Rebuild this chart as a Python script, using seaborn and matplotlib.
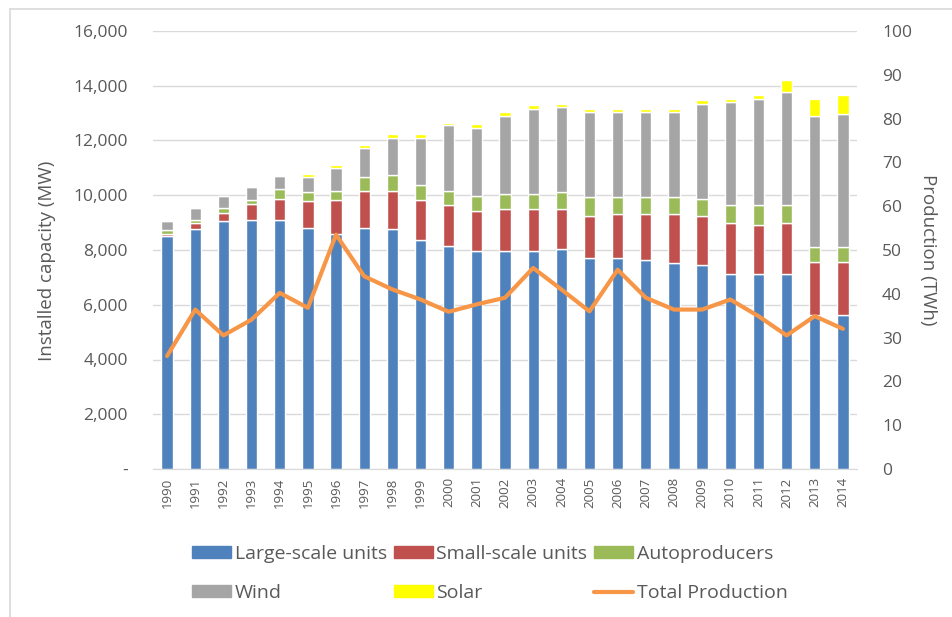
import numpy as np
import pandas as pd
import matplotlib
matplotlib.use('Agg')
import matplotlib.pyplot as plt
import seaborn as sns
from matplotlib.lines import Line2D

# data (MW per component, TWh for production)
years = [str(y) for y in range(1990, 2015)]
large_scale = [8500, 8750, 9050, 9110, 9110, 8810, 8570, 8810, 8750, 8380, 8140, 7960, 7960,
               7960, 8020, 7690, 7690, 7630, 7510, 7450, 7140, 7140, 7140, 5640, 5640]
small_scale = [100, 240, 310, 580, 760, 970, 1240, 1360, 1420, 1430, 1490, 1480, 1520,
               1520, 1460, 1550, 1610, 1670, 1790, 1790, 1850, 1790, 1850, 1930, 1930]
autoproducers = [130, 120, 180, 120, 360, 330, 360, 510, 560, 560, 540, 550, 570,
                 570, 630, 690, 630, 630, 630, 630, 640, 700, 640, 550, 550]
wind = [320, 430, 450, 480, 490, 570, 830, 1050, 1360, 1720, 2380, 2480, 2840,
        3110, 3110, 3100, 3100, 3100, 3100, 3470, 3770, 3890, 4130, 4770, 4850]
solar = [0, 0, 0, 0, 0, 100, 110, 110, 140, 140, 100, 130, 140,
         120, 130, 130, 130, 130, 130, 130, 120, 130, 440, 630, 680]
production = [25.8, 36.4, 30.5, 34.1, 40.2, 36.8, 53.5, 44.0, 41.0, 38.7, 35.9, 37.6, 39.1,
              45.9, 41.0, 36.0, 45.5, 39.1, 36.4, 36.4, 38.7, 34.9, 30.5, 34.9, 32.0]

df = pd.DataFrame({'Year': years, 'Large-scale units': large_scale, 'Small-scale units': small_scale,
                   'Autoproducers': autoproducers, 'Wind': wind, 'Solar': solar,
                   'Total Production': production})

sns.set_style('white')
plt.rcParams['font.family'] = ['Open Sans', 'DejaVu Sans']
txt = '#595959'

fig = plt.figure(figsize=(9.52, 6.17), dpi=100)
ax = fig.add_axes([153/952, 1-469/617, 704/952, 438/617])

series = ['Large-scale units', 'Small-scale units', 'Autoproducers', 'Wind', 'Solar']
colors = ['#4F81BD', '#C0504D', '#9BBB59', '#A5A5A5', '#FFFF00']
bottom = np.zeros(len(df))
for name, col in zip(series, colors):
    sns.barplot(x='Year', y=name, data=df, color=col, width=0.4, bottom=bottom,
                ax=ax, zorder=2, saturation=1, errorbar=None)
    bottom = bottom + df[name].values

ax.set_ylim(0, 16000)
ax.set_xlim(-0.5, len(df)-0.5)
ax.set_yticks(np.arange(0, 16001, 2000))
ax.yaxis.set_major_formatter(plt.FuncFormatter(lambda v, loc: '-' if v == 0 else "{:,}".format(int(v))))
ax.grid(axis='y', color='#D9D9D9', linewidth=1, zorder=0)
ax.set_axisbelow(True)
for s in ['left', 'right', 'top']:
    ax.spines[s].set_visible(False)
ax.spines['bottom'].set_color('#D9D9D9')
ax.tick_params(axis='y', length=0, pad=18, labelsize=12.5, labelcolor=txt)
ax.tick_params(axis='x', length=0, pad=6, labelsize=9.5, labelcolor=txt, rotation=90)
ax.set_xlabel('')
ax.set_ylabel('Installed capacity (MW)', fontsize=13.5, color=txt)
ax.yaxis.set_label_coords(-0.138, 0.475)

ax2 = ax.twinx()
sns.lineplot(x=np.arange(len(df)), y=df['Total Production'].values, color='#F79646',
             linewidth=3, ax=ax2, zorder=3)
ax2.set_ylim(0, 100)
ax2.set_yticks(np.arange(0, 101, 10))
for s in ['left', 'right', 'top', 'bottom']:
    ax2.spines[s].set_visible(False)
ax2.tick_params(axis='y', length=0, pad=18, labelsize=12.5, labelcolor=txt)
ax2.set_ylabel('Production (TWh)', fontsize=13.5, color=txt, rotation=270, labelpad=18)
ax2.grid(False)

# legend, filled column-wise so rows read like the original
patches = [plt.Rectangle((0, 0), 1, 1, color=c) for c in colors]
line = Line2D([0], [0], color='#F79646', linewidth=3)
handles = [patches[0], patches[3], patches[1], patches[4], patches[2], line]
labels = ['Large-scale units', 'Wind', 'Small-scale units', 'Solar', 'Autoproducers', 'Total Production']
leg = fig.legend(handles, labels, ncol=3, loc='upper left', bbox_to_anchor=(192/952, 1-545/617),
                 frameon=False, fontsize=14, handlelength=2.0, handleheight=0.55,
                 handletextpad=0.2, columnspacing=0.35, labelspacing=1.08, borderpad=0,
                 borderaxespad=0)
for t in leg.get_texts():
    t.set_color(txt)

# outer chart border (left and top edges visible)
fig.add_artist(Line2D([9.5/952, 9.5/952], [0, 1-9/617], color='#D9D9D9', linewidth=1.2))
fig.add_artist(Line2D([9.5/952, 1], [1-9/617, 1-9/617], color='#D9D9D9', linewidth=1.2))

plt.savefig('out.png', dpi=100)
